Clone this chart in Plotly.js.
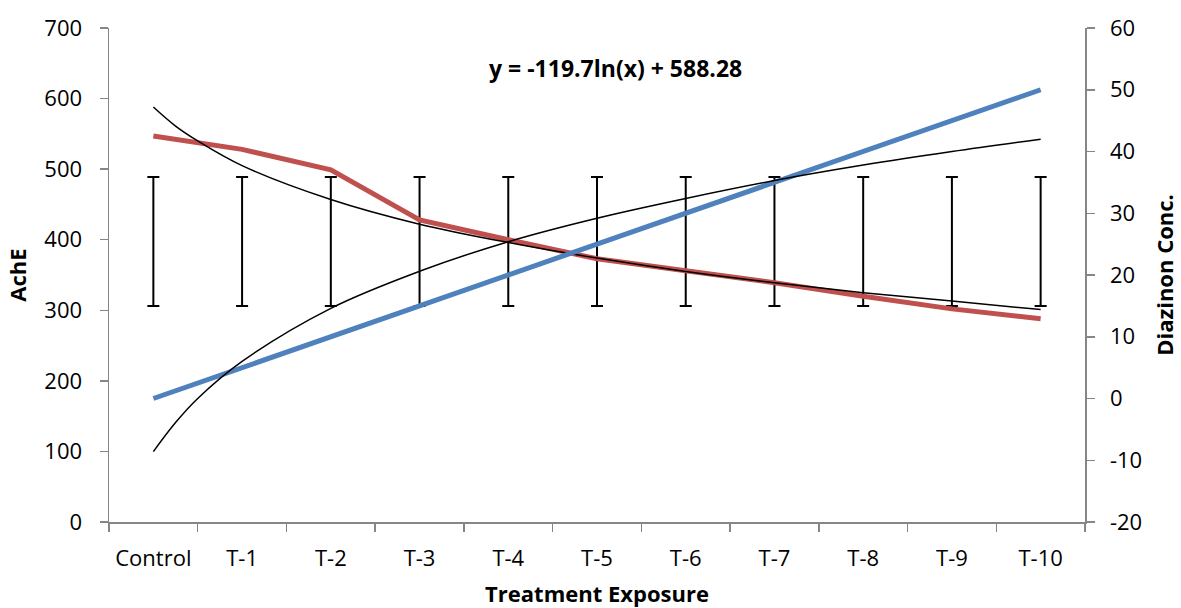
<!DOCTYPE html>
<html>
<head>
<meta charset="utf-8">
<script src="https://cdn.plot.ly/plotly-3.0.1.min.js"></script>
<style>html,body{margin:0;padding:0;background:#fff}#chart{width:1181px;height:608px}</style>
</head>
<body>
<div id="chart"></div>
<script>
const categories = ["Control","T-1","T-2","T-3","T-4","T-5","T-6","T-7","T-8","T-9","T-10"];
const xPos = [1,2,3,4,5,6,7,8,9,10,11];
const ache = [547, 528, 499, 428, 400, 373, 356, 339, 320, 302, 288];
const diazinon = [0, 5, 10, 15, 20, 25, 30, 35, 40, 45, 50];
const errCenter = [397.5, 397.5, 397.5, 397.5, 397.5, 397.5, 397.5, 397.5, 397.5, 397.5, 397.5];
const errHalf = [91.5, 91.5, 91.5, 91.5, 91.5, 91.5, 91.5, 91.5, 91.5, 91.5, 91.5];
// trend lines
const trendX = [1, 1.25, 1.5, 2, 3, 4, 5, 6, 7, 8, 9, 10, 11];
const acheTrend = [588, 561, 540, 505, 457, 422, 396, 374, 355, 339, 325, 313, 301];
const diazTrend = [-8.6, -3.9, 0.0, 6.0, 14.6, 20.6, 25.4, 29.2, 32.4, 35.3, 37.8, 40.0, 42.0];
const y2TickVals = [-20, -10, 0, 10, 20, 30, 40, 50, 60];
const y2TickText = ["-20", "-10", "0", "10", "20", "30", "40", "50", "60"];
const equationText = "y = -119.7ln(x) + 588.28";

const fam = "Open Sans, Noto Sans, sans-serif";
const font = {family: fam, size: 22, color: "#000"};
const titleFont = {family: fam, size: 22, color: "#000", weight: "bold"};
const axisGray = "#868686";

const traces = [
  {x: xPos, y: errCenter, type: "scatter", mode: "markers",
   marker: {size: 1, color: "rgba(0,0,0,0)"},
   error_y: {type: "data", array: errHalf, visible: true, color: "#000", thickness: 2, width: 6},
   hoverinfo: "skip", yaxis: "y"},
  {x: xPos, y: ache, type: "scatter", mode: "lines", name: "AchE",
   line: {color: "#C0504D", width: 5}, yaxis: "y"},
  {x: trendX, y: acheTrend, type: "scatter", mode: "lines", name: "Log. (AchE)",
   line: {color: "#000", width: 1.5, shape: "spline"}, yaxis: "y"},
  {x: xPos, y: diazinon, type: "scatter", mode: "lines", name: "Diazinon Conc.",
   line: {color: "#4F81BD", width: 5}, yaxis: "y2"},
  {x: trendX, y: diazTrend, type: "scatter", mode: "lines", name: "Log. (Diazinon Conc.)",
   line: {color: "#000", width: 1.5, shape: "spline"}, yaxis: "y2"}
];

const layout = {
  width: 1181, height: 608,
  margin: {l: 109, r: 96, t: 28, b: 86},
  paper_bgcolor: "#fff", plot_bgcolor: "#fff",
  showlegend: false,
  font: font,
  xaxis: {
    range: [0.5, 11.5], tickmode: "array", tickvals: xPos, ticktext: categories,
    ticks: "", showgrid: false, zeroline: false,
    showline: true, linecolor: axisGray, linewidth: 1.5,
    ticklabelstandoff: 16,
    minor: {ticks: "outside", tick0: 0.5, dtick: 1, ticklen: 8, tickwidth: 1.5, tickcolor: axisGray, showgrid: false},
    tickfont: font,
    title: {text: "Treatment Exposure", font: titleFont, standoff: 24},
    automargin: false
  },
  yaxis: {
    range: [0, 700], dtick: 100, tick0: 0,
    ticks: "outside", ticklen: 8, tickwidth: 1.5, tickcolor: axisGray,
    showline: true, linecolor: axisGray, linewidth: 1.5,
    showgrid: false, zeroline: false,
    ticklabelstandoff: 13,
    tickfont: font,
    title: {text: "AchE", font: titleFont, standoff: 11},
    automargin: false
  },
  yaxis2: {
    range: [-20, 60], tickmode: "array", tickvals: y2TickVals, ticktext: y2TickText,
    overlaying: "y", side: "right",
    ticks: "outside", ticklen: 8, tickwidth: 1.5, tickcolor: axisGray,
    showline: true, linecolor: axisGray, linewidth: 1.5,
    showgrid: false, zeroline: false,
    ticklabelstandoff: 11,
    tickfont: font,
    title: {text: "Diazinon Conc.", font: titleFont, standoff: 16},
    automargin: false
  },
  annotations: [
    {text: equationText, xref: "paper", yref: "paper", x: 0.519, y: 0.92,
     xanchor: "center", yanchor: "middle", showarrow: false,
     font: {family: fam, size: 23, color: "#000", weight: "bold"}}
  ]
};

Plotly.newPlot("chart", traces, layout, {displayModeBar: false, staticPlot: true});
</script>
</body>
</html>
